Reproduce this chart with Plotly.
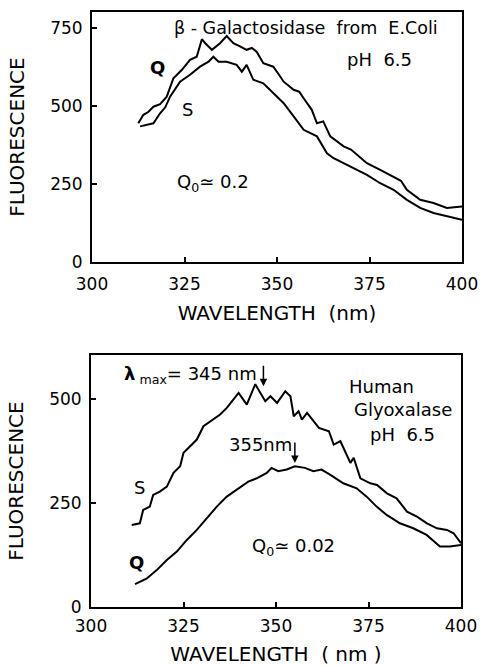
import plotly.graph_objects as go

# top panel: beta-galactosidase from E.coli
gal_q_wl = [312.5, 313.9, 315.2, 316.6, 318.4, 320.2, 322.0, 324.3, 326.5, 328.3, 329.7, 330.6,
            332.4, 334.6, 336.4, 338.2, 340.0, 341.8, 343.2, 344.5, 346.3, 349.0, 350.5, 351.8,
            354.5, 356.0, 357.2, 359.4, 360.8, 362.5, 364.4, 368.0, 370.0, 371.6, 374.3, 377.9,
            381.5, 383.5, 385.1, 388.7, 392.3, 395.9, 400.0]
gal_q_fl = [444, 471, 480, 497, 505, 529, 588, 615, 647, 657, 713, 700,
            679, 700, 723, 700, 690, 679, 685, 673, 636, 625, 600, 577,
            551, 545, 524, 487, 444, 450, 402, 370, 360, 343, 316, 295,
            274, 260, 231, 199, 189, 173, 178]

gal_s_wl = [313.0, 314.5, 316.6, 318.4, 319.8, 321.1, 323.8, 326.5, 329.2, 331.5, 332.8, 334.2,
            336.4, 339.1, 340.5, 341.8, 343.6, 346.3, 349.0, 351.8, 354.5, 357.2, 360.8, 363.5,
            365.3, 368.0, 371.6, 374.3, 377.9, 381.5, 385.1, 388.7, 392.3, 395.9, 400.0]
gal_s_fl = [434, 438, 444, 476, 495, 529, 577, 599, 625, 641, 657, 641,
            641, 631, 609, 631, 583, 572, 540, 508, 466, 423, 402, 348,
            332, 316, 295, 279, 252, 231, 199, 173, 157, 146, 135]

# bottom panel: human glyoxalase
gly_s_wl = [311.0, 313.2, 314.1, 315.9, 316.8, 318.6, 320.5, 322.3, 324.1, 325.0, 326.8, 328.6,
            330.4, 333.1, 334.9, 336.7, 338.5, 339.9, 342.1, 344.4, 347.1, 348.5, 350.3, 352.5,
            353.9, 354.8, 356.1, 357.0, 358.4, 361.6, 364.3, 365.6, 367.4, 370.1, 371.0, 372.8,
            375.5, 377.3, 380.0, 382.6, 385.4, 388.1, 390.8, 393.5, 396.2, 398.0, 400.0]
gly_s_fl = [197, 201, 233, 241, 269, 277, 289, 322, 338, 370, 386, 402,
            434, 450, 462, 478, 498, 514, 486, 535, 494, 506, 490, 518,
            506, 458, 470, 450, 466, 430, 422, 390, 398, 346, 358, 309,
            297, 293, 273, 261, 229, 217, 201, 189, 185, 177, 153]

gly_q_wl = [311.9, 315.0, 317.7, 320.5, 323.2, 325.9, 328.6, 331.3, 334.0, 336.7, 339.4, 342.5,
            344.8, 347.5, 348.8, 350.6, 352.9, 355.1, 357.8, 360.1, 362.3, 364.6, 368.2, 371.8,
            374.5, 377.2, 379.9, 383.5, 387.1, 390.7, 394.3, 397.0, 400.0]
gly_q_fl = [55, 68, 88, 113, 133, 161, 185, 213, 241, 265, 281, 301,
            309, 322, 334, 326, 330, 338, 334, 326, 330, 318, 297, 285,
            265, 241, 221, 201, 189, 173, 145, 145, 149]

x_ticks = [300, 325, 350, 375, 400]
top_y_ticks = [0, 250, 500, 750]
bot_y_ticks = [0, 250, 500]

FONT = "DejaVu Sans"
line = dict(color="black", width=2)

fig = go.Figure()
fig.add_trace(go.Scatter(x=gal_q_wl, y=gal_q_fl, mode="lines", line=line, xaxis="x", yaxis="y"))
fig.add_trace(go.Scatter(x=gal_s_wl, y=gal_s_fl, mode="lines", line=line, xaxis="x", yaxis="y"))
fig.add_trace(go.Scatter(x=gly_s_wl, y=gly_s_fl, mode="lines", line=line, xaxis="x2", yaxis="y2"))
fig.add_trace(go.Scatter(x=gly_q_wl, y=gly_q_fl, mode="lines", line=line, xaxis="x2", yaxis="y2"))

axis_style = dict(showline=True, mirror=True, linecolor="black", linewidth=2,
                  ticks="inside", ticklen=5, tickwidth=2, tickcolor="black",
                  showgrid=False, zeroline=False, automargin=False,
                  tickfont=dict(family=FONT, size=17, color="black"))
x_style = dict(axis_style, ticklabelstandoff=6)
y_style = dict(axis_style, ticklabelstandoff=4)

fig.update_layout(
    width=480, height=666,
    margin=dict(l=0, r=0, t=0, b=0),
    paper_bgcolor="white", plot_bgcolor="white",
    showlegend=False,
    font=dict(family=FONT, size=17, color="black"),
    xaxis=dict(domain=[92 / 480, 462 / 480], range=[300, 400], tickvals=x_ticks, anchor="y",
               title=dict(text="WAVELENGTH  (nm)", standoff=13), **x_style),
    yaxis=dict(domain=[1 - 262 / 666, 1 - 12 / 666], range=[0, 800], tickvals=top_y_ticks, anchor="x",
               title=dict(text="FLUORESCENCE", standoff=20), **y_style),
    xaxis2=dict(domain=[91 / 480, 461 / 480], range=[300, 400], tickvals=x_ticks, anchor="y2",
                title=dict(text="WAVELENGTH  ( nm )", standoff=15), **dict(x_style, ticklabelstandoff=3)),
    yaxis2=dict(domain=[1 - 607 / 666, 1 - 355 / 666], range=[0, 605], tickvals=bot_y_ticks, anchor="x2",
                title=dict(text="FLUORESCENCE", standoff=20), **y_style),
)

def note(text, x, y, ref="", size=18):
    fig.add_annotation(text=text, x=x, y=y, xref="x" + ref, yref="y" + ref,
                       showarrow=False, font=dict(family=FONT, size=size, color="black"))

note("β - Galactosidase  from  E.Coli", 357.8, 750, size=17.5)
note("pH  6.5", 377.8, 647)
note("<b>Q</b>", 317.6, 622)
note("S", 325.7, 487)
note("Q<sub>0</sub>≃ 0.2", 332.7, 253)

note("<b>λ</b><sub> max</sub>= 345 nm", 326.8, 558, "2")
note("Human", 378.6, 529, "2")
note("Glyoxalase", 384.3, 474, "2")
note("pH  6.5", 384.3, 413, "2")
note("355nm", 345.7, 389, "2")
note("S", 313.2, 286, "2")
note("<b>Q</b>", 312.4, 108, "2")
note("Q<sub>0</sub>≃ 0.02", 354.6, 144, "2")

for x, y in [(346.6, 530), (355.1, 346)]:
    fig.add_annotation(x=x, y=y, xref="x2", yref="y2", text="", showarrow=True,
                       ax=0, ay=-22, arrowhead=2, arrowsize=1, arrowwidth=1.5, arrowcolor="black")

fig.write_html("out.html", config={"displayModeBar": False},
               post_script="document.body.style.margin='0';")
